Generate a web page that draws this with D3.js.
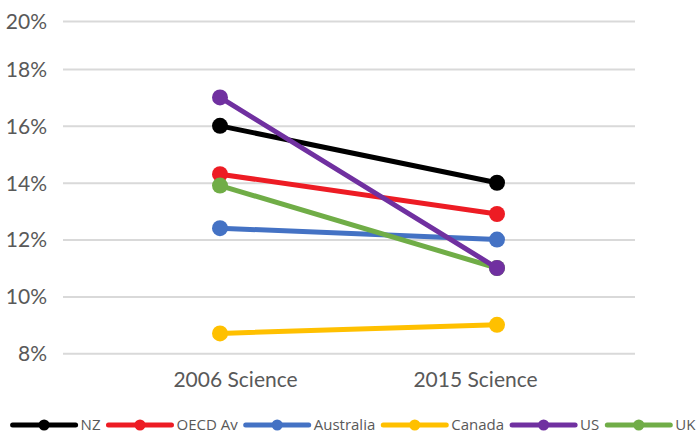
<!DOCTYPE html>
<html><head><meta charset="utf-8">
<script src="https://cdn.jsdelivr.net/npm/d3@7"></script>
<style>body{margin:0;background:#fff}svg{display:block}</style>
</head><body>
<svg id="c" width="698" height="438"></svg>
<script>
const categories = ["2006 Science", "2015 Science"];
const seriesNames = ["NZ", "OECD Av", "Australia", "Canada", "US", "UK"];
const seriesColors = ["#000000", "#ED1C24", "#4472C4", "#FFC000", "#7030A0", "#70AD47"];
const NZ = [0.160, 0.140];
const OECD = [0.143, 0.129];
const Australia = [0.124, 0.120];
const Canada = [0.087, 0.090];
const US = [0.170, 0.110];
const UK = [0.139, 0.110];
const yTicks = [0.08, 0.10, 0.12, 0.14, 0.16, 0.18, 0.20];

const seriesValues = [NZ, OECD, Australia, Canada, US, UK];
const series = seriesNames.map((n, i) => ({name: n, color: seriesColors[i], values: seriesValues[i]}));

const svg = d3.select("#c");
const font = "Lato, 'Open Sans', sans-serif";
const legendFont = "'Open Sans', Lato, sans-serif";
const gray = "#595959";

const y = d3.scaleLinear().domain([0.08, 0.18, 0.20]).range([353.3, 69, 21]);
const x = d3.scalePoint().domain(categories).range([220, 497]);
const xLabel = d3.scalePoint().domain(categories).range([235, 475]);
const gridX0 = 63, gridX1 = 635;

// gridlines
const yAxis = d3.axisLeft(y).tickValues(yTicks).tickFormat(d3.format(".0%")).tickSize(-(gridX1 - gridX0)).tickPadding(16);
const ga = svg.append("g").attr("transform", `translate(${gridX0},0)`).call(yAxis);
ga.select(".domain").remove();
ga.selectAll(".tick line").attr("stroke", "#D9D9D9").attr("stroke-width", 2);
ga.selectAll(".tick text").attr("fill", gray).attr("font-family", font).attr("font-size", 21).attr("dy", "0.35em");

// x axis labels
const xAxis = d3.axisBottom(xLabel).tickSize(0).tickPadding(0);
const gx = svg.append("g").attr("transform", "translate(0,372)").call(xAxis);
gx.select(".domain").remove();
gx.selectAll(".tick text").attr("fill", gray).attr("font-family", font).attr("font-size", 21).attr("dy", "0.71em");

// series draw order (US on top)
const drawOrder = ["NZ", "OECD Av", "Australia", "Canada", "UK", "US"];
const line = d3.line().x((d, i) => x(categories[i])).y(d => y(d));
drawOrder.forEach(name => {
  const s = series.find(q => q.name === name);
  const g = svg.append("g");
  g.append("path").datum(s.values).attr("d", line).attr("fill", "none")
    .attr("stroke", s.color).attr("stroke-width", 5).attr("stroke-linecap", "round");
  g.selectAll("circle").data(s.values).join("circle")
    .attr("cx", (d, i) => x(categories[i])).attr("cy", d => y(d)).attr("r", 8)
    .attr("fill", s.color);
});

// legend
const lg = svg.append("g");
let cx = 0;
series.forEach(s => {
  const it = lg.append("g").attr("transform", `translate(${cx},0)`);
  it.append("line").attr("x1", 0).attr("x2", 63).attr("y1", 0).attr("y2", 0)
    .attr("stroke", s.color).attr("stroke-width", 5).attr("stroke-linecap", "round");
  it.append("circle").attr("cx", 31.5).attr("cy", 0).attr("r", 5.5).attr("fill", s.color);
  const t = it.append("text").attr("x", 68).attr("y", 0).attr("dy", "0.35em")
    .attr("fill", gray).attr("font-family", legendFont).attr("font-size", 15).text(s.name);
  const w = t.node().getComputedTextLength();
  cx += 68 + w + 8;
});
const totalW = cx - 8;
lg.attr("transform", `translate(${354 - totalW / 2},425)`);
</script>
</body></html>
